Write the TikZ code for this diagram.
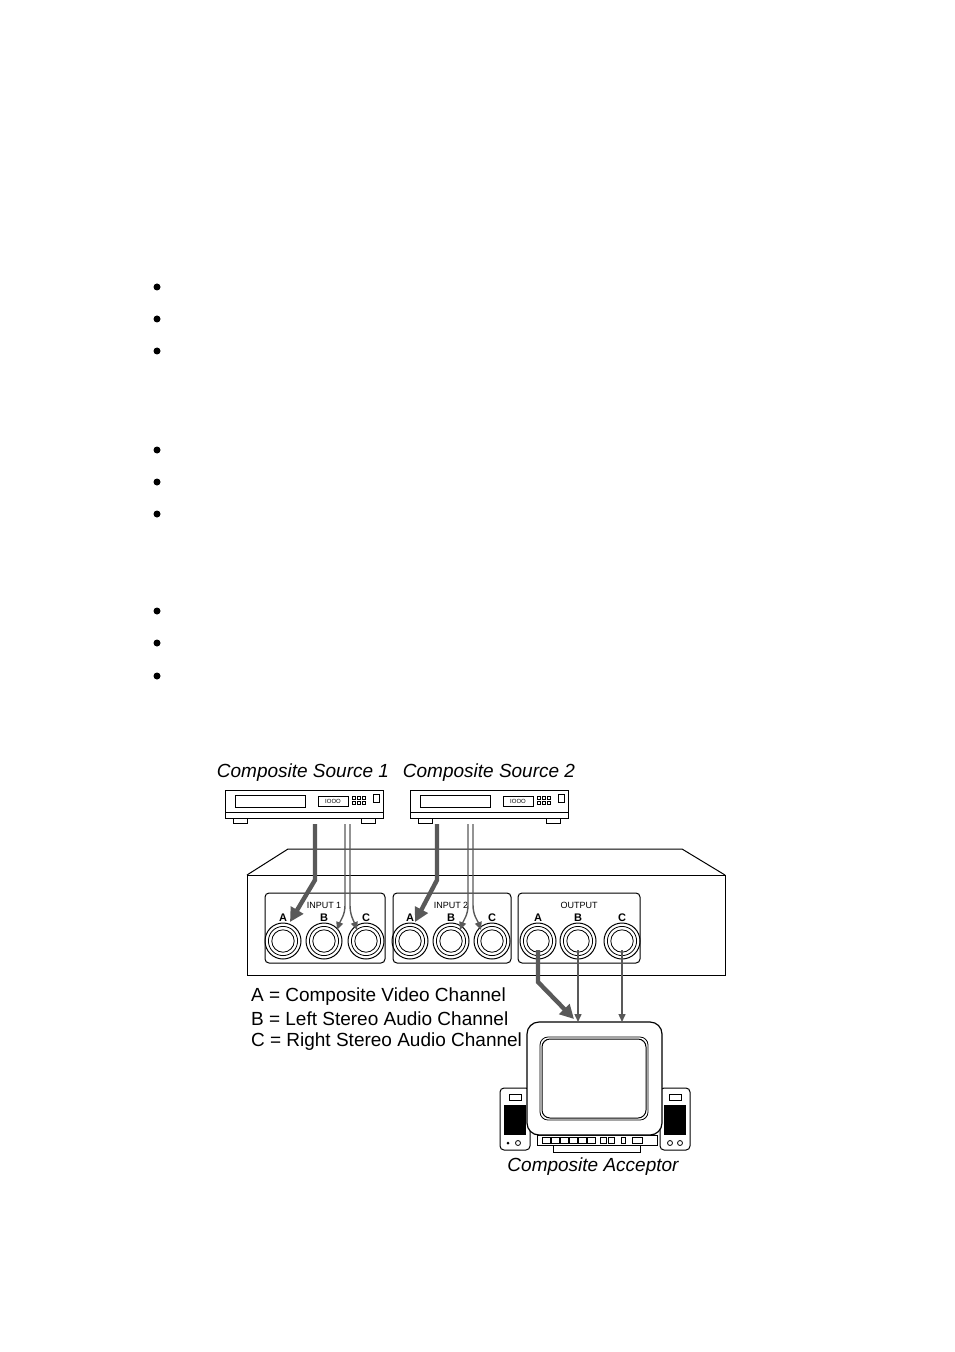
\documentclass[tikz,border=0pt]{standalone}
\usepackage{fontspec}
\setmainfont{Liberation Sans}
\usetikzlibrary{arrows.meta}
\usetikzlibrary{calc}

\tikzset{
  thick cable/.style={draw=black!65,line width=2.2pt,-{Triangle[length=7pt,width=7pt]}},
  thin cable/.style={draw=black!65,line width=0.7pt,-{Triangle[length=4pt,width=3.5pt]}},
  panelbox/.style={draw,line width=0.5pt,rounded corners=2pt},
  lbl/.style={font=\fontsize{9.5}{11}\selectfont\itshape},
  jacklbl/.style={font=\fontsize{5.5}{6}\selectfont\bfseries},
  paneltitle/.style={font=\fontsize{4.5}{5}\selectfont},
}
\newcommand{\jack}[2]{%
  \draw[line width=0.5pt] (#1) circle (9pt);
  \draw[line width=0.4pt] (#1) circle (7.3pt);
  \draw[line width=0.4pt] (#1) circle (5.6pt);
  \coordinate (#2) at (#1);}
\newcommand{\player}[2]{%
  \begin{scope}[shift={(#1)}]
    \draw[line width=0.5pt] (0,0) rectangle (158,28);
    \draw[line width=0.4pt] (0,22) -- (158,22);
    \draw[line width=0.4pt] (10,5) rectangle (80,17);
    \draw[line width=0.4pt] (93,6) rectangle (123,16);
    \node[font=\fontsize{3}{3}\selectfont] at (108,11) {IOOO};
    \foreach \i in {0,1,2} \foreach \j in {0,1}
      \draw[line width=0.3pt] (127+\i*5,6+\j*5) rectangle (130+\i*5,9+\j*5);
    \draw[line width=0.4pt] (148,4) rectangle (154,12);
    \draw[line width=0.4pt] (8,28) rectangle (22,33);
    \draw[line width=0.4pt] (136,28) rectangle (150,33);
    \coordinate (#2) at (0,0);
  \end{scope}}

\begin{document}
\begin{tikzpicture}[x=0.5pt,y=-0.5pt]
\useasboundingbox (0,0) rectangle (954,1352);

% bullets
\foreach \y in {287,319,351,450,482,514,611,643,676}
  \fill (157,\y) circle (3.5);

% sources
\node[lbl] (src1) at (303,773) {Composite Source 1};
\node[lbl] (src2) at (489,773) {Composite Source 2};
\player{225,790}{vcr1}
\player{410,790}{vcr2}

% switcher chassis
\draw[line width=0.5pt] (247,875) -- (288,849) -- (682,849) -- (725,875);
\draw[line width=0.5pt] (247,875) rectangle (725,975);
\draw[panelbox] (265,893) rectangle (385,963);
\draw[panelbox] (393,893) rectangle (511,963);
\draw[panelbox] (518,893) rectangle (640,963);
\node[paneltitle] (in1) at (324,905) {INPUT 1};
\node[paneltitle] (in2) at (451,905) {INPUT 2};
\node[paneltitle] (out) at (579,905) {OUTPUT};
\foreach \x/\n in {283/i1a,324/i1b,366/i1c,410/i2a,451/i2b,492/i2c,538/oa,578/ob,622/oc}{
  \jack{\x,941}{\n}
}
\foreach \x/\t in {283/A,324/B,366/C,410/A,451/B,492/C,538/A,578/B,622/C}
  \node[jacklbl] at (\x,918) {\t};

% cables from sources
\draw[thick cable] (315,824) -- (315,880) -- (290,922);
\draw[thin cable] (345,824) -- (345,905) to[out=-90,in=70] (337,930);
\draw[thin cable] (350,824) -- (350,905) to[out=-90,in=110] (357,930);
\draw[thick cable] (437,824) -- (437,880) -- (415,922);
\draw[thin cable] (468,824) -- (468,905) to[out=-90,in=70] (460,930);
\draw[thin cable] (473,824) -- (473,905) to[out=-90,in=110] (481,930);

% monitor
\draw[line width=0.5pt,rounded corners=2pt] (500,1088) -- (500,1150) -- (530,1150) -- (530,1088) -- cycle;
\fill (504,1105) rectangle (526,1135);
\draw[line width=0.4pt] (509,1094) rectangle (521,1100);
\fill (508,1143) circle (1.5);
\draw (518,1143) circle (2.5);
\draw[line width=0.5pt,rounded corners=2pt] (660,1088) -- (660,1150) -- (690,1150) -- (690,1088) -- cycle;
\fill (664,1105) rectangle (686,1135);
\draw[line width=0.4pt] (669,1094) rectangle (681,1100);
\draw (670,1143) circle (2.5);
\draw (680,1143) circle (2.5);
\draw[line width=0.5pt] (553,1145) rectangle (640,1152);
\draw[line width=0.5pt] (537,1135) rectangle (657,1145);
\foreach \x in {542,551,560,569,578,587} \draw[line width=0.3pt] (\x,1137) rectangle (\x+8,1143);
\draw[line width=0.3pt] (600,1137) rectangle (606,1143);
\draw[line width=0.3pt] (608,1137) rectangle (614,1143);
\draw[line width=0.3pt] (621,1137) rectangle (625,1143);
\draw[line width=0.3pt] (632,1137) rectangle (642,1143);
\draw[line width=0.6pt,rounded corners=6pt,fill=white] (527,1022) rectangle (662,1135);
\draw[line width=0.4pt,rounded corners=4pt] (540,1037) rectangle (648,1120);
\draw[line width=0.5pt,rounded corners=4pt] (542,1039) rectangle (646,1118);
\coordinate (monA) at (578,1020);
\coordinate (monB) at (578,1022);
\coordinate (monC) at (622,1022);
\node[lbl] (acc) at (593,1167) {Composite Acceptor};

% cables to acceptor
\draw[thick cable] (oa) ++(0,9) -- (538,982) -- (574,1019);
\draw[thin cable] (ob) ++(0,9) -- (monB);
\draw[thin cable] (oc) ++(0,9) -- (monC);

% legend
\node[font=\fontsize{9.5}{11}\selectfont,anchor=west] (lgA) at (244,997) {A = Composite Video Channel};
\node[font=\fontsize{9.5}{11}\selectfont,anchor=west] (lgB) at (244,1019) {B = Left Stereo Audio Channel};
\node[font=\fontsize{9.5}{11}\selectfont,anchor=west] (lgC) at (244,1042) {C = Right Stereo Audio Channel};
\end{tikzpicture}
\end{document}
